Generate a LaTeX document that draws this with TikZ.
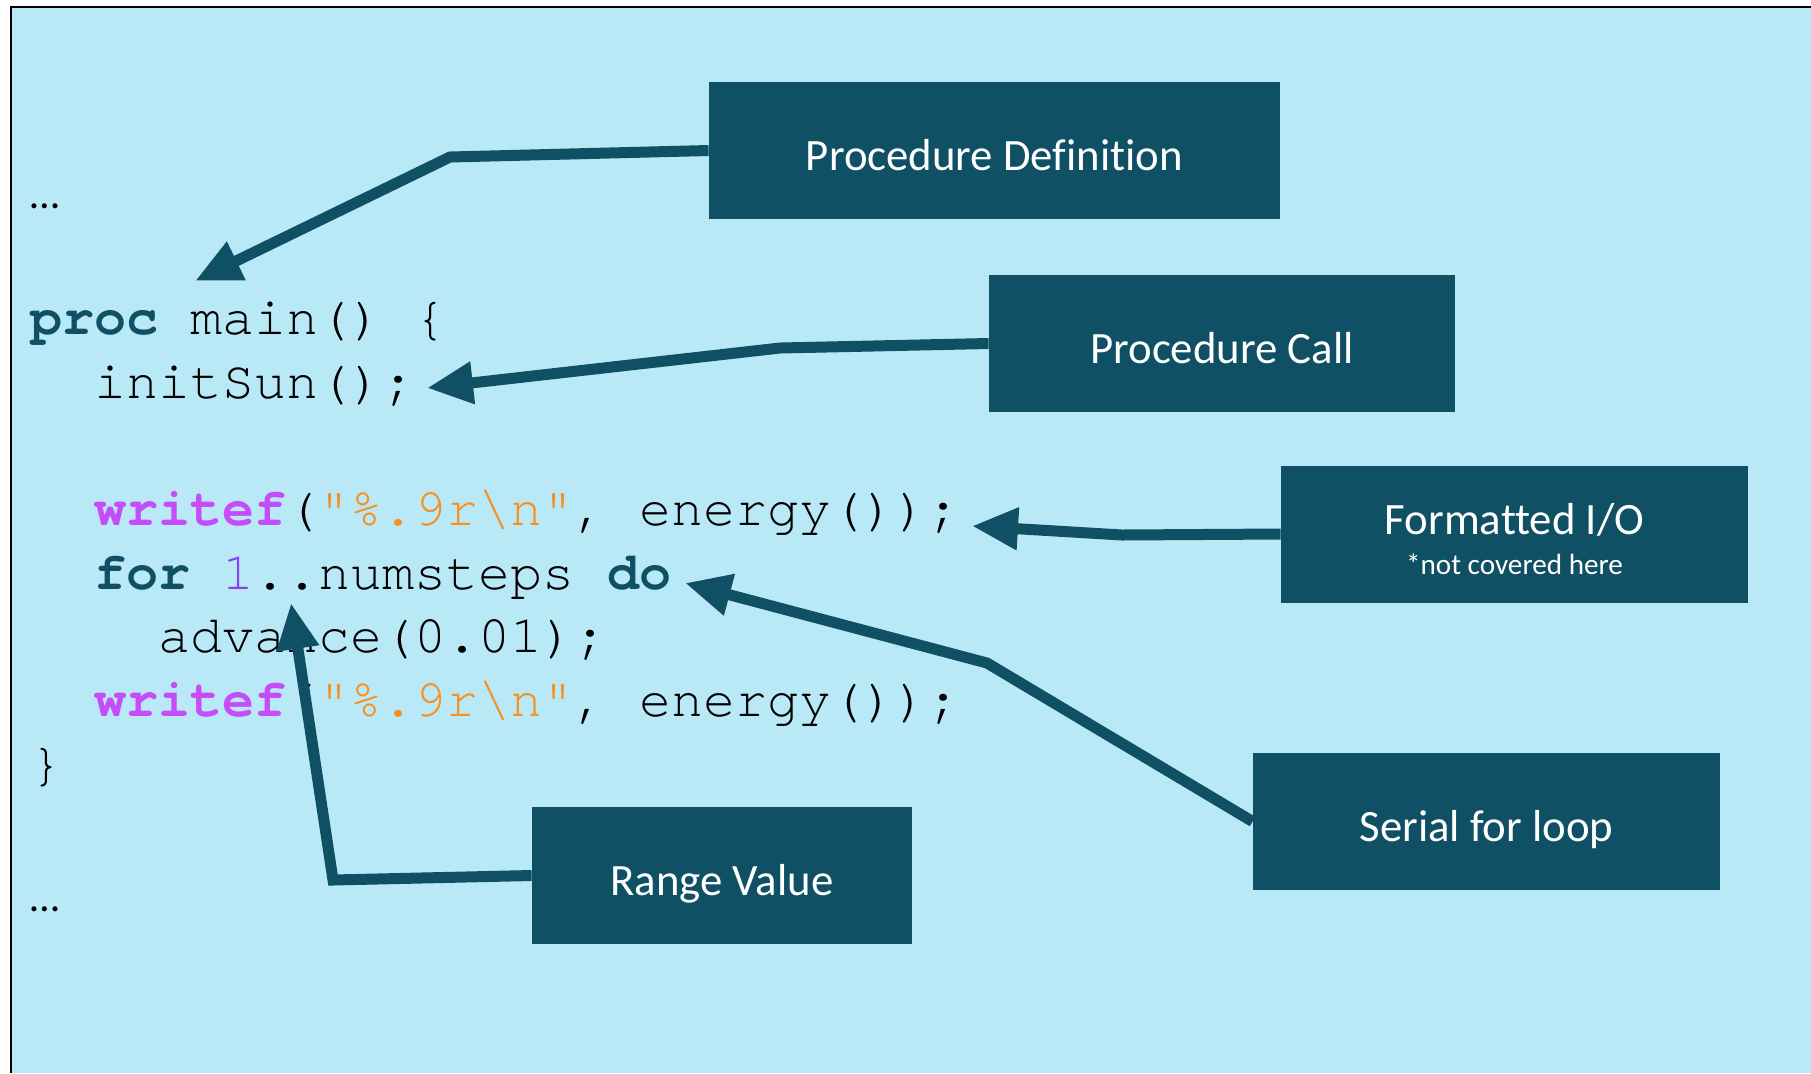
\documentclass[tikz,border=0pt]{standalone}
\usepackage{fontspec}
\setmonofont{TeX Gyre Cursor}
\newfontfamily\calloutfont[Ligatures=NoCommon]{Carlito}
\usetikzlibrary{arrows.meta, positioning}

\definecolor{boxteal}{HTML}{0F5064}
\definecolor{slidebg}{HTML}{B9E9F6}
\definecolor{kwpink}{HTML}{C64BF9}
\definecolor{strorange}{HTML}{F7901E}
\definecolor{numpurple}{HTML}{8A3FF0}

\newcommand{\kw}[1]{\textcolor{boxteal}{\bfseries #1}}
\newcommand{\fmtstr}{\textcolor{strorange}{"\%.9r\textbackslash n"}}

\begin{document}
\begin{tikzpicture}[x=0.5pt, y=-0.5pt,
  callout/.style={fill=boxteal, text=white, inner sep=0pt, minimum height=68.5pt,
    align=center, font=\calloutfont\fontsize{22.4}{26}\selectfont},
  oneline/.style={callout, text height=20pt, text depth=0pt},
  code/.style={anchor=base west, inner sep=0pt, font=\ttfamily\fontsize{26.7}{30}\selectfont},
  dots/.style={anchor=base west, inner sep=0pt, font=\calloutfont\fontsize{21}{24}\selectfont},
  pointer/.style={-{Triangle[length=23pt,width=20pt]}, line width=5.5pt, draw=boxteal}]

  \useasboundingbox (0,0) rectangle (1811,1073);

  % slide background
  \fill[slidebg] (10,6) rectangle (1811,1073);
  \draw[line width=1.25pt] (11,1073) -- (11,7) -- (1811,7);

  % code listing
  \node[dots] (dotstop) at (30,208) {…};
  \node[code] (line1) at (30,334) {\kw{proc} main() \{};
  \node[code] (line2) at (94,398) {initSun();};
  \node[code] (line3) at (94,525) {\textcolor{kwpink}{\bfseries writef}(\fmtstr, energy());};
  \node[code] (line4) at (94,589) {\kw{for} \textcolor{numpurple}{1}..numsteps \kw{do}};
  \node[code] (line5) at (158,652) {advance(0.01);};
  \node[code] (line6) at (94,716) {\textcolor{kwpink}{\bfseries writef}(\fmtstr, energy());};
  \node[code] (line7) at (30,780) {\}};
  \node[dots] (dotsbottom) at (30,911) {…};

  % callout boxes
  \node[oneline, minimum width=285.5pt] (procdef) at (994.5,150.5) {Procedure Definition};
  \node[oneline, minimum width=233pt] (proccall) at (1222,343.5) {Procedure Call};
  \node[callout, minimum width=233.5pt] (fmtio) at (1514.5,534)
      {\rule{0pt}{21pt}Formatted I/O\\[-6pt]{\fontsize{14.6}{17}\selectfont *not covered here}};
  \node[oneline, minimum width=233.5pt] (serialfor) at (1486.5,821.5) {Serial for loop};
  \node[oneline, minimum width=190pt] (rangeval) at (722,875.5) {Range Value};

  % bends and tips of the pointers
  \coordinate (defbend) at (450,157);
  \coordinate (deftip) at (195,281);
  \coordinate (callbend) at (780,348);
  \coordinate (calltip) at (427,388);
  \coordinate (iobend) at (1122,535);
  \coordinate (iotip) at (972,526);
  \coordinate (loopbend) at (987,663);
  \coordinate (looptip) at (685,583);
  \coordinate (rangebend) at (333,880);
  \coordinate (rangetip) at (291,603);

  \draw[pointer] (procdef.west) -- (defbend) -- (deftip);
  \draw[pointer] (proccall.west) -- (callbend) -- (calltip);
  \draw[pointer] (fmtio.west) -- (iobend) -- (iotip);
  \draw[pointer] (serialfor.west) -- (loopbend) -- (looptip);
  \draw[pointer] (rangeval.west) -- (rangebend) -- (rangetip);

\end{tikzpicture}
\end{document}
